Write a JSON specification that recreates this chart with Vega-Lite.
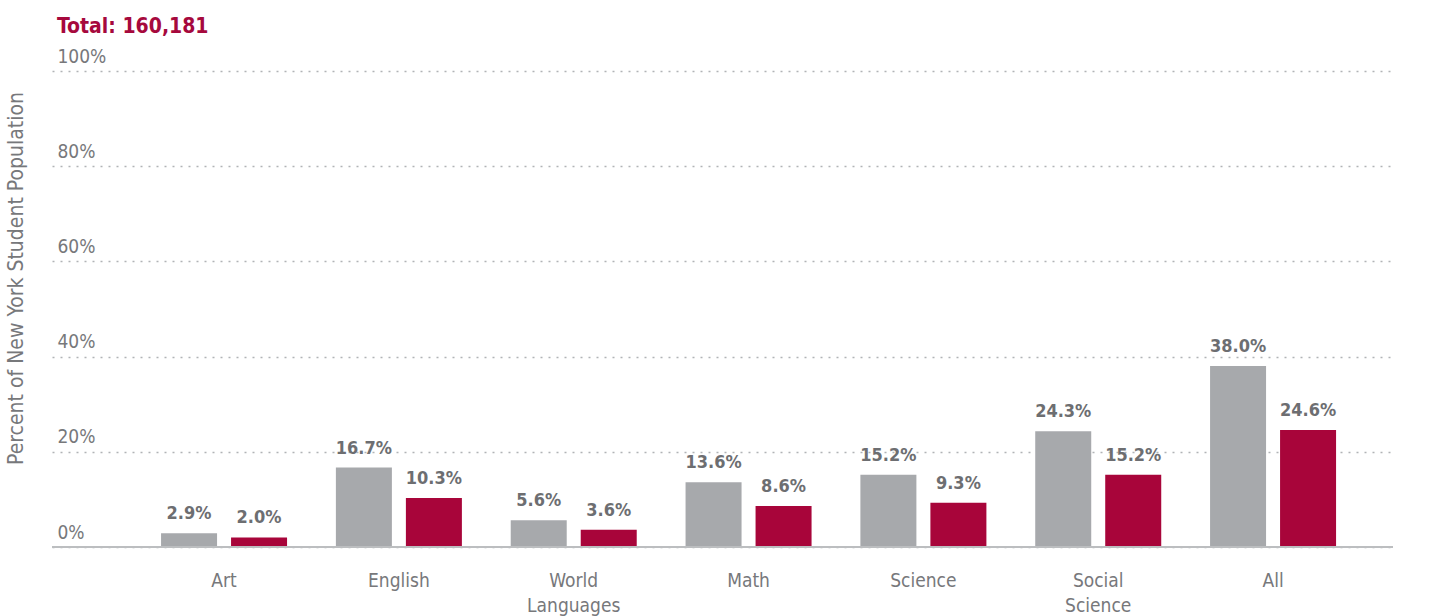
{
  "$schema": "https://vega.github.io/schema/vega-lite/v6.json",
  "autosize": "none",
  "width": 1341,
  "height": 476,
  "padding": {"left": 52, "top": 71, "right": 60, "bottom": 69},
  "background": "white",
  "config": {
    "font": "DejaVu Sans Condensed, sans-serif",
    "view": {"stroke": null}
  },
  "title": {
    "text": "Total: 160,181",
    "anchor": "start",
    "frame": "group",
    "dx": 5,
    "fontSize": 21,
    "fontWeight": "bold",
    "color": "#a6093d",
    "baseline": "alphabetic",
    "offset": -7
  },
  "data": {
    "values": [
      {"subject": "Art", "series": "Series 1", "value": 0.029},
      {"subject": "Art", "series": "Series 2", "value": 0.020},
      {"subject": "English", "series": "Series 1", "value": 0.167},
      {"subject": "English", "series": "Series 2", "value": 0.103},
      {"subject": "World Languages", "series": "Series 1", "value": 0.056},
      {"subject": "World Languages", "series": "Series 2", "value": 0.036},
      {"subject": "Math", "series": "Series 1", "value": 0.136},
      {"subject": "Math", "series": "Series 2", "value": 0.086},
      {"subject": "Science", "series": "Series 1", "value": 0.152},
      {"subject": "Science", "series": "Series 2", "value": 0.093},
      {"subject": "Social Science", "series": "Series 1", "value": 0.243},
      {"subject": "Social Science", "series": "Series 2", "value": 0.152},
      {"subject": "All", "series": "Series 1", "value": 0.380},
      {"subject": "All", "series": "Series 2", "value": 0.246}
    ]
  },
  "encoding": {
    "x": {
      "field": "subject",
      "type": "nominal",
      "sort": ["Art", "English", "World Languages", "Math", "Science", "Social Science", "All"],
      "scale": {"paddingInner": 0.2793, "paddingOuter": 0.4747, "align": 0.657},
      "axis": {
        "title": null,
        "labelAngle": 0,
        "ticks": false,
        "domain": false,
        "labelFontSize": 19,
        "labelColor": "#77787b",
        "labelBaseline": "top",
        "labelPadding": 24,
        "labelLineHeight": 25,
        "labelExpr": "split(datum.label, ' ')"
      }
    },
    "xOffset": {
      "field": "series",
      "type": "nominal",
      "sort": ["Series 1", "Series 2"],
      "scale": {"paddingInner": 0.2, "paddingOuter": 0}
    },
    "y": {
      "field": "value",
      "type": "quantitative",
      "scale": {"domain": [0, 1]},
      "axis": {
        "title": "Percent of New York Student Population",
        "titleFontSize": 21,
        "titleFontWeight": "normal",
        "titleColor": "#77787b",
        "titleAngle": -90,
        "titleBaseline": "alphabetic",
        "titleX": -30,
        "titleY": 207,
        "titleAlign": "center",
        "values": [0, 0.2, 0.4, 0.6, 0.8, 1],
        "format": ".0%",
        "domain": false,
        "ticks": false,
        "tickSize": 0,
        "labelAlign": "left",
        "labelBaseline": "alphabetic",
        "labelPadding": -5,
        "labelOffset": -9,
        "labelFontSize": 19,
        "labelColor": "#77787b",
        "grid": true,
        "gridDash": [2, 6],
        "gridColor": "#b1b3b6",
        "gridWidth": 1.5
      }
    }
  },
  "layer": [
    {
      "mark": {"type": "bar"},
      "encoding": {
        "color": {
          "field": "series",
          "type": "nominal",
          "scale": {"domain": ["Series 1", "Series 2"], "range": ["#a7a9ac", "#a8053a"]},
          "legend": null
        }
      }
    },
    {
      "mark": {"type": "text", "baseline": "alphabetic", "dy": -14, "fontSize": 18, "fontWeight": "bold", "color": "#6d6e71"},
      "encoding": {
        "text": {"field": "value", "type": "quantitative", "format": ".1%"}
      }
    },
    {
      "data": {"values": [{"base": 0}]},
      "mark": {"type": "rule", "color": "#bcbec0", "strokeWidth": 2},
      "encoding": {
        "x": null,
        "xOffset": null,
        "y": {"field": "base", "type": "quantitative"}
      }
    }
  ]
}
